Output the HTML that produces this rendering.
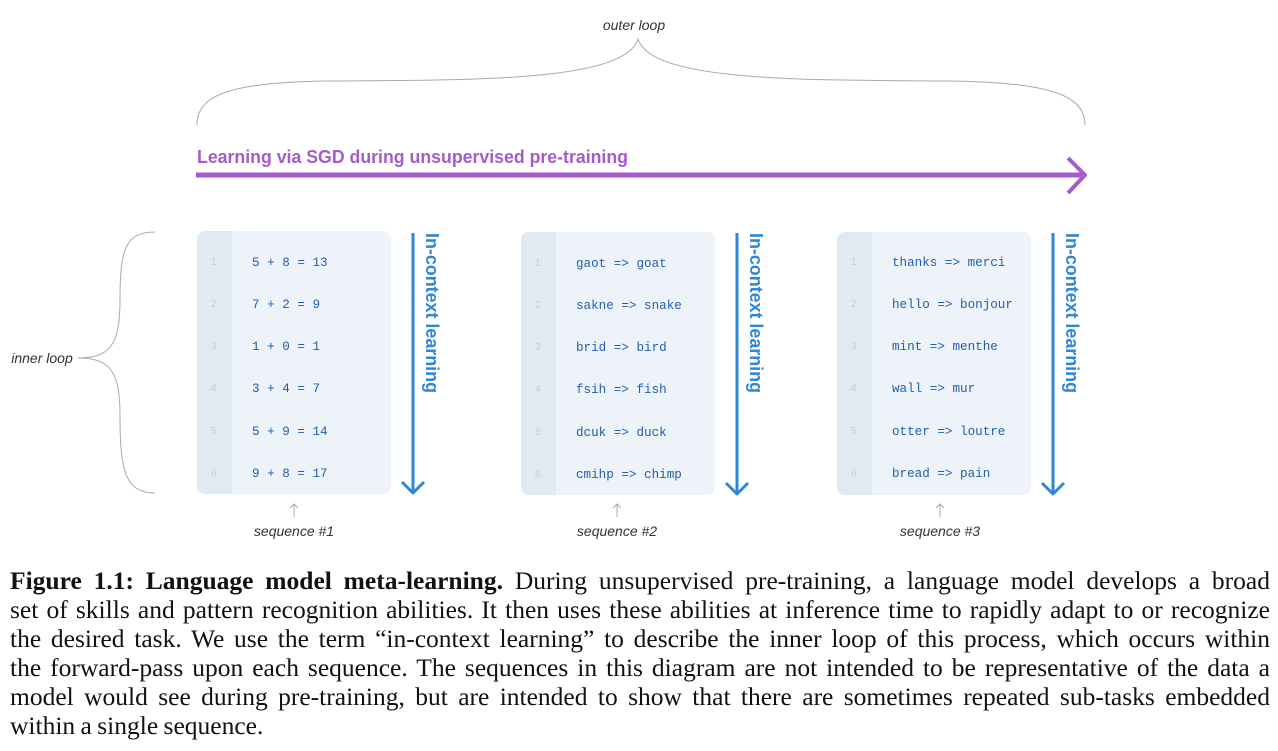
<!DOCTYPE html>
<html><head><meta charset="utf-8"><style>
body{margin:0;background:#fff;width:1278px;height:751px;overflow:hidden;position:relative}
svg{position:absolute;left:0;top:0}
.cap{position:absolute;left:10px;top:566px;width:1260px;font-family:"Liberation Serif",serif;font-size:25.5px;line-height:29px;color:#111;word-spacing:-1px}
.cap div{text-align:justify;text-align-last:justify;white-space:nowrap;height:29px}
.cap div.last{text-align-last:left}
.mono{font-family:"Liberation Mono",monospace;font-size:12.6px;fill:#1f5fb0}
.ln{font-family:"Liberation Sans",sans-serif;font-size:10px;fill:#c5ccd3}
.it{font-family:"Liberation Sans",sans-serif;font-style:italic;font-size:14px;fill:#333}
.icl{font-family:"Liberation Sans",sans-serif;font-weight:bold;font-size:18px;fill:#2e86d6}
</style></head><body>
<svg width="1278" height="560" viewBox="0 0 1278 560">
<text class="it" x="634" y="30" text-anchor="middle">outer loop</text>
<path d="M197,125 C197,95 230,82 330,81 C470,80 625,82 638,39 C651,82 806,80 946,81 C1050,82 1085,95 1085,125" fill="none" stroke="#aaa" stroke-width="1"/>
<text x="197" y="163" font-family="Liberation Sans,sans-serif" font-weight="bold" font-size="18" fill="#a45bd0" textLength="431" lengthAdjust="spacingAndGlyphs">Learning via SGD during unsupervised pre-training</text>
<line x1="196" y1="175" x2="1082" y2="175" stroke="#a45bd0" stroke-width="5"/>
<polyline points="1068,158 1085,175 1068,193" fill="none" stroke="#a45bd0" stroke-width="4" stroke-linejoin="round"/>
<text class="it" x="42" y="363" text-anchor="middle">inner loop</text>
<path d="M155,232 C125,232 120,250 120,300 C120,345 110,358 78,358 C110,358 120,371 120,416 C120,470 125,493 155,493" fill="none" stroke="#aaa" stroke-width="1"/>
<rect x="197" y="231" width="194" height="263" rx="8" fill="#edf3f8"/>
<path d="M205,231 H232 V494 H205 A8,8 0 0 1 197,486 V239 A8,8 0 0 1 205,231Z" fill="#e0eaf2"/>
<rect x="521" y="232" width="194" height="263" rx="8" fill="#edf3f8"/>
<path d="M529,232 H556 V495 H529 A8,8 0 0 1 521,487 V240 A8,8 0 0 1 529,232Z" fill="#e0eaf2"/>
<rect x="837" y="232" width="194" height="263" rx="8" fill="#edf3f8"/>
<path d="M845,232 H872 V495 H845 A8,8 0 0 1 837,487 V240 A8,8 0 0 1 845,232Z" fill="#e0eaf2"/>
<g class="ln">
<text x="211" y="265">1</text><text x="211" y="307">2</text><text x="211" y="349">3</text><text x="211" y="391">4</text><text x="211" y="434">5</text><text x="211" y="476">6</text>
<text x="535" y="266">1</text><text x="535" y="308">2</text><text x="535" y="350">3</text><text x="535" y="392">4</text><text x="535" y="435">5</text><text x="535" y="477">6</text>
<text x="851" y="265">1</text><text x="851" y="307">2</text><text x="851" y="349">3</text><text x="851" y="391">4</text><text x="851" y="434">5</text><text x="851" y="476">6</text>
</g>
<g class="mono" xml:space="preserve">
<text x="252" y="266">5 + 8 = 13</text><text x="252" y="308">7 + 2 = 9</text><text x="252" y="350">1 + 0 = 1</text><text x="252" y="392">3 + 4 = 7</text><text x="252" y="435">5 + 9 = 14</text><text x="252" y="477">9 + 8 = 17</text>
<text x="576" y="267">gaot => goat</text><text x="576" y="309">sakne => snake</text><text x="576" y="351">brid => bird</text><text x="576" y="393">fsih => fish</text><text x="576" y="436">dcuk => duck</text><text x="576" y="478">cmihp => chimp</text>
<text x="892" y="266">thanks => merci</text><text x="892" y="308">hello => bonjour</text><text x="892" y="350">mint => menthe</text><text x="892" y="392">wall => mur</text><text x="892" y="435">otter => loutre</text><text x="892" y="477">bread => pain</text>
</g>
<g stroke="#2e86d6" stroke-width="3" fill="none" stroke-linejoin="round">
<line x1="413" y1="233" x2="413" y2="493"/><polyline points="402,482 413,493 424,482"/>
<line x1="737" y1="233" x2="737" y2="494"/><polyline points="726,483 737,494 748,483"/>
<line x1="1053" y1="233" x2="1053" y2="494"/><polyline points="1042,483 1053,494 1064,483"/>
</g>
<text class="icl" transform="translate(426,233) rotate(90)" textLength="160" lengthAdjust="spacingAndGlyphs">In-context learning</text>
<text class="icl" transform="translate(750,233) rotate(90)" textLength="160" lengthAdjust="spacingAndGlyphs">In-context learning</text>
<text class="icl" transform="translate(1066,233) rotate(90)" textLength="160" lengthAdjust="spacingAndGlyphs">In-context learning</text>
<g stroke="#aaa" stroke-width="1" fill="none">
<line x1="294" y1="504" x2="294" y2="517"/><polyline points="290,508 294,504 298,508"/>
<line x1="617" y1="504" x2="617" y2="517"/><polyline points="613,508 617,504 621,508"/>
<line x1="940" y1="504" x2="940" y2="517"/><polyline points="936,508 940,504 944,508"/>
</g>
<text class="it" x="294" y="536" text-anchor="middle">sequence #1</text>
<text class="it" x="617" y="536" text-anchor="middle">sequence #2</text>
<text class="it" x="940" y="536" text-anchor="middle">sequence #3</text>
</svg>
<div class="cap">
<div><b>Figure 1.1: Language model meta-learning.</b> During unsupervised pre-training, a language model develops a broad</div>
<div>set of skills and pattern recognition abilities. It then uses these abilities at inference time to rapidly adapt to or recognize</div>
<div>the desired task. We use the term “in-context learning” to describe the inner loop of this process, which occurs within</div>
<div>the forward-pass upon each sequence. The sequences in this diagram are not intended to be representative of the data a</div>
<div>model would see during pre-training, but are intended to show that there are sometimes repeated sub-tasks embedded</div>
<div class="last">within a single sequence.</div>
</div>
</body></html>
